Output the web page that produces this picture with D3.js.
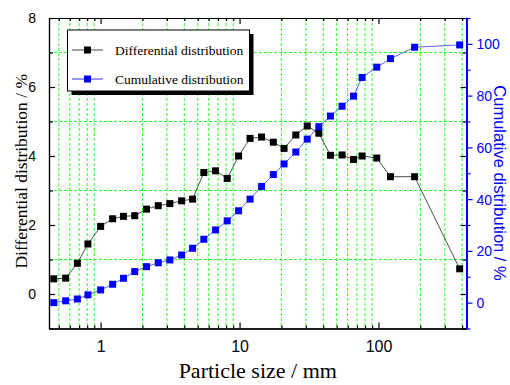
<!DOCTYPE html>
<html>
<head>
<meta charset="utf-8">
<script src="https://cdn.jsdelivr.net/npm/d3@7"></script>
<style>
  body { margin: 0; background: #fff; }
  svg { display: block; }
</style>
</head>
<body>
<div id="chart"></div>
<script>
// particle sizes (mm)
const sizes = [0.46, 0.56, 0.68, 0.81, 1.0, 1.22, 1.46, 1.76, 2.14, 2.6, 3.15, 3.83, 4.59,
  5.53, 6.72, 8.15, 9.84, 11.9, 14.4, 17.5, 20.9, 25.4, 30.7, 37.2, 45.1, 54.7, 66.1, 76.2,
  97.2, 122, 182, 384];
// differential distribution (%)
const differential = [0.44, 0.46, 0.89, 1.45, 1.96, 2.18, 2.25, 2.27, 2.46, 2.56, 2.62, 2.7, 2.75,
  3.52, 3.57, 3.35, 4.0, 4.51, 4.55, 4.4, 4.22, 4.61, 4.87, 4.66, 4.02, 4.03, 3.9, 4.0,
  3.94, 3.4, 3.4, 0.73];
// cumulative distribution (%)
const cumulative = [0.0, 0.7, 1.4, 3.0, 4.9, 7.1, 9.4, 12.0, 13.9, 15.4, 16.5, 18.4, 21.0,
  24.5, 28.1, 31.6, 35.5, 40.0, 44.9, 49.5, 53.6, 58.2, 63.2, 68.0, 72.1, 75.9, 79.8, 87.0,
  91.0, 94.3, 98.7, 99.6];

const xTicks = [1, 10, 100];
const leftTicks = [0, 2, 4, 6, 8];
const leftMinor = [-1, 1, 3, 5, 7];
const rightTicks = [0, 20, 40, 60, 80, 100];
const rightMinor = [-10, 10, 30, 50, 70, 90, 110];

const W = 510, H = 385;
const plot = { left: 49, right: 466.5, top: 18, bottom: 328.5 };
const sans = "'Liberation Sans', Arial, sans-serif";
const serif = "'Liberation Serif', 'Times New Roman', serif";
const blue = "#0000ff";
const grid = "#22ff22";

const svg = d3.select("#chart").append("svg")
  .attr("width", W).attr("height", H);

const x = d3.scaleLog().domain([0.425, 430]).range([plot.left, plot.right]);
const yL = d3.scaleLinear().domain([-1, 8]).range([plot.bottom, plot.top]);
const yR = d3.scaleLinear().domain([-10, 110]).range([plot.bottom, plot.top]);

// minor x values: 2..9 times each decade
const xMinor = [];
[0.1, 1, 10, 100].forEach(d => {
  for (let k = 2; k <= 9; k++) {
    const v = k * d;
    if (v > x.domain()[0] && v < x.domain()[1]) xMinor.push(+v.toPrecision(3));
  }
});

// grid lines (at minor ticks)
const g = svg.append("g");
g.selectAll(".vgrid").data(xMinor).enter().append("line")
  .attr("x1", d => x(d)).attr("x2", d => x(d))
  .attr("y1", plot.top).attr("y2", plot.bottom)
  .attr("stroke", grid).attr("stroke-width", 1).attr("stroke-dasharray", "3,2");
g.selectAll(".hgrid").data(leftMinor.filter(v => v > -1)).enter().append("line")
  .attr("x1", plot.left).attr("x2", plot.right)
  .attr("y1", d => yL(d)).attr("y2", d => yL(d))
  .attr("stroke", grid).attr("stroke-width", 1).attr("stroke-dasharray", "3,2");

// axes
const bottomAxis = svg.append("g").attr("transform", `translate(0,${plot.bottom})`);
bottomAxis.call(d3.axisBottom(x).tickValues(xTicks).tickFormat(d3.format("d"))
  .tickSizeInner(-6).tickSizeOuter(0).tickPadding(12));
bottomAxis.append("g").call(d3.axisBottom(x).tickValues(xMinor).tickFormat("").tickSizeInner(-3).tickSizeOuter(0));

const topAxis = svg.append("g").attr("transform", `translate(0,${plot.top})`);
topAxis.call(d3.axisTop(x).tickValues(xTicks).tickFormat("").tickSizeInner(-6).tickSizeOuter(0));
topAxis.append("g").call(d3.axisTop(x).tickValues(xMinor).tickFormat("").tickSizeInner(-3).tickSizeOuter(0));

const leftAxis = svg.append("g").attr("transform", `translate(${plot.left},0)`);
leftAxis.call(d3.axisLeft(yL).tickValues(leftTicks).tickSizeInner(-6).tickSizeOuter(0).tickPadding(13));
leftAxis.append("g").call(d3.axisLeft(yL).tickValues(leftMinor).tickFormat("").tickSizeInner(-4).tickSizeOuter(0));

// mirrored left ticks on the right side
const rightMirror = svg.append("g").attr("transform", `translate(${plot.right},0)`);
rightMirror.call(d3.axisRight(yL).tickValues(leftTicks).tickFormat("").tickSizeInner(-6).tickSizeOuter(0));
rightMirror.append("g").call(d3.axisRight(yL).tickValues(leftMinor).tickFormat("").tickSizeInner(-4).tickSizeOuter(0));

const rightAxis = svg.append("g").attr("transform", `translate(${plot.right},0)`);
rightAxis.call(d3.axisRight(yR).tickValues(rightTicks).tickSizeInner(6).tickSizeOuter(0).tickPadding(4));
rightAxis.append("g").call(d3.axisRight(yR).tickValues(rightMinor).tickFormat("").tickSizeInner(4).tickSizeOuter(0));

[bottomAxis, topAxis, leftAxis, rightMirror].forEach(a => {
  a.selectAll("path, line").attr("stroke", "#000").attr("stroke-width", 1.2);
  a.selectAll("text").attr("font-family", sans).attr("fill", "#000");
});
bottomAxis.selectAll("text").attr("font-size", 16);
leftAxis.selectAll("text").attr("font-size", 14).attr("dy", "0.35em");
rightAxis.selectAll("path, line").attr("stroke", blue).attr("stroke-width", 1.2);
rightAxis.select(".domain").attr("stroke-width", 2);
rightAxis.selectAll("text").attr("font-family", sans).attr("font-size", 14).attr("fill", blue).attr("dy", "0.35em");
bottomAxis.select(".domain").attr("stroke-width", 1.6);

// series
const rows = sizes.map((s, i) => ({ s, d: differential[i], c: cumulative[i] }));
const ms = 7;

svg.append("path").datum(rows)
  .attr("fill", "none").attr("stroke", "#222").attr("stroke-width", 0.8)
  .attr("d", d3.line().x(r => x(r.s)).y(r => yL(r.d)));
svg.selectAll(".dm").data(rows).enter().append("rect")
  .attr("x", r => x(r.s) - ms / 2).attr("y", r => yL(r.d) - ms / 2)
  .attr("width", ms).attr("height", ms).attr("fill", "#000");

svg.append("path").datum(rows)
  .attr("fill", "none").attr("stroke", "#3333ff").attr("stroke-width", 0.8)
  .attr("d", d3.line().x(r => x(r.s)).y(r => yR(r.c)));
svg.selectAll(".cm").data(rows).enter().append("rect")
  .attr("x", r => x(r.s) - ms / 2).attr("y", r => yR(r.c) - ms / 2)
  .attr("width", ms).attr("height", ms).attr("fill", blue);

// legend
const lg = svg.append("g");
lg.append("rect").attr("x", 71.5).attr("y", 34).attr("width", 182).attr("height", 61).attr("fill", "#000");
lg.append("rect").attr("x", 67.5).attr("y", 30).attr("width", 182).attr("height", 61)
  .attr("fill", "#fff").attr("stroke", "#000").attr("stroke-width", 1);
const legendItems = [
  { name: "Differential distribution", color: "#000", line: "#444", y: 50 },
  { name: "Cumulative distribution", color: blue, line: "#3333ff", y: 79 }
];
legendItems.forEach(it => {
  lg.append("line").attr("x1", 72).attr("x2", 103).attr("y1", it.y).attr("y2", it.y)
    .attr("stroke", it.line).attr("stroke-width", 1);
  lg.append("rect").attr("x", 87.5 - 3.5).attr("y", it.y - 3.5).attr("width", 7).attr("height", 7).attr("fill", it.color);
  lg.append("text").attr("x", 115).attr("y", it.y + 4.5)
    .attr("font-family", serif).attr("font-size", 13.5).attr("fill", "#000").text(it.name);
});

// axis titles
svg.append("text").attr("x", (plot.left + plot.right) / 2).attr("y", 378)
  .attr("text-anchor", "middle").attr("font-family", serif).attr("font-size", 22)
  .text("Particle size / mm");
svg.append("text").attr("transform", `translate(26.5,${(plot.top + plot.bottom) / 2 - 2}) rotate(-90)`)
  .attr("text-anchor", "middle").attr("font-family", serif).attr("font-size", 17.5)
  .text("Differential distribution / %");
svg.append("text").attr("transform", `translate(494,183) rotate(90)`)
  .attr("text-anchor", "middle").attr("font-family", sans).attr("font-size", 16.5).attr("fill", blue)
  .text("Cumulative distribution / %");
</script>
</body>
</html>
